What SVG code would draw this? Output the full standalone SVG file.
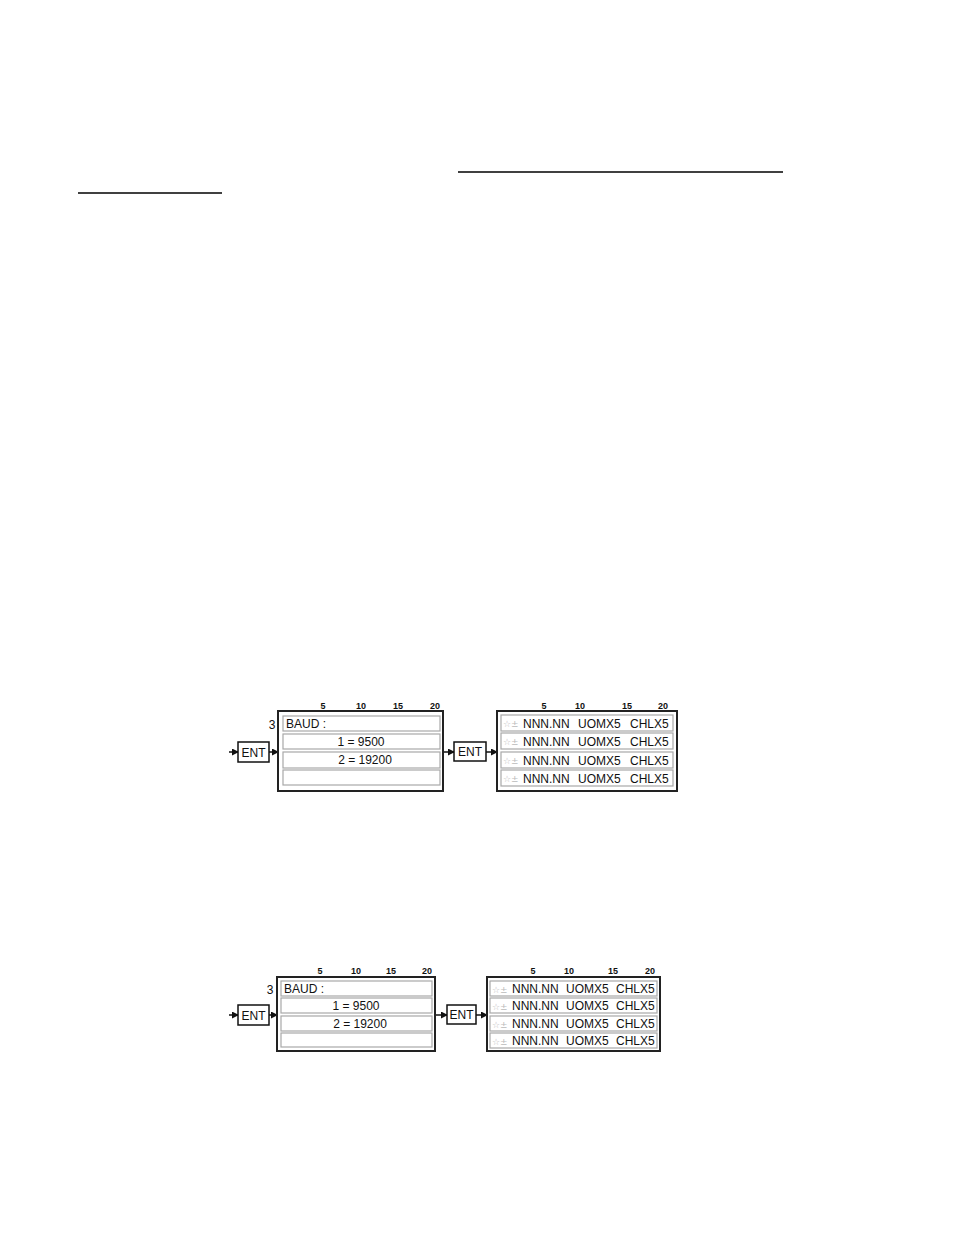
<svg xmlns="http://www.w3.org/2000/svg" width="954" height="1235" viewBox="0 0 954 1235">
<style>
.t{font-family:"Liberation Sans",Arial,sans-serif;font-size:12px;fill:#111}
.s{font-family:"Liberation Sans",Arial,sans-serif;font-size:9px;font-weight:bold;fill:#111}
.g{font-family:"DejaVu Sans",sans-serif;font-size:9px;fill:#bbb}
.box{fill:#fff;stroke:#222;stroke-width:2}
.row{fill:#fff;stroke:#a8a8a8;stroke-width:1.2}
.ent{fill:#fff;stroke:#111;stroke-width:1.5}
.c{stroke:#111;stroke-width:1.5;fill:none}
.rule{stroke:#000;stroke-width:1.5}
</style>
<defs>
<marker id="ah" markerWidth="7" markerHeight="7" refX="6" refY="3.5" orient="auto" markerUnits="userSpaceOnUse">
<path d="M0,0 L7,3.5 L0,7 Z" fill="#111"/>
</marker>
</defs>
<rect width="954" height="1235" fill="#fff"/>
<line class="rule" x1="458" y1="172" x2="783" y2="172"/>
<line class="rule" x1="78" y1="193" x2="222" y2="193"/>

<g id="connectors">
<line class="c" x1="229" y1="752" x2="238" y2="752" marker-end="url(#ah)"/>
<line class="c" x1="269" y1="752" x2="278" y2="752" marker-end="url(#ah)"/>
<line class="c" x1="443" y1="752" x2="454" y2="752" marker-end="url(#ah)"/>
<line class="c" x1="486" y1="752" x2="497" y2="752" marker-end="url(#ah)"/>
<line class="c" x1="229" y1="1015" x2="238" y2="1015" marker-end="url(#ah)"/>
<line class="c" x1="269" y1="1015" x2="277" y2="1015" marker-end="url(#ah)"/>
<line class="c" x1="435" y1="1015" x2="447" y2="1015" marker-end="url(#ah)"/>
<line class="c" x1="476" y1="1015" x2="487" y2="1015" marker-end="url(#ah)"/>
</g>

<g id="ent1a">
<rect class="ent" x="238" y="742" width="31" height="20"/>
<text class="t" x="253.5" y="756.5" text-anchor="middle">ENT</text>
</g>
<g id="baud1">
<text class="s" x="323" y="709" text-anchor="middle">5</text>
<text class="s" x="361" y="709" text-anchor="middle">10</text>
<text class="s" x="398" y="709" text-anchor="middle">15</text>
<text class="s" x="435" y="709" text-anchor="middle">20</text>
<text class="t" x="272" y="729" text-anchor="middle">3</text>
<rect class="box" x="278" y="711" width="165" height="80"/>
<rect class="row" x="283" y="716" width="157" height="15"/>
<rect class="row" x="283" y="734" width="157" height="15"/>
<rect class="row" x="283" y="752" width="157" height="16"/>
<rect class="row" x="283" y="770" width="157" height="15"/>
<text class="t" x="286" y="728">BAUD :</text>
<text class="t" x="361" y="746" text-anchor="middle">1 = 9500</text>
<text class="t" x="365" y="764" text-anchor="middle">2 = 19200</text>
</g>
<g id="ent1b">
<rect class="ent" x="454" y="742" width="32" height="19"/>
<text class="t" x="470" y="756" text-anchor="middle">ENT</text>
</g>
<g id="disp1">
<text class="s" x="544" y="709" text-anchor="middle">5</text>
<text class="s" x="580" y="709" text-anchor="middle">10</text>
<text class="s" x="627" y="709" text-anchor="middle">15</text>
<text class="s" x="663" y="709" text-anchor="middle">20</text>
<rect class="box" x="497" y="711" width="180" height="80"/>
<rect class="row" x="501" y="715" width="172" height="16"/>
<rect class="row" x="501" y="733" width="172" height="16"/>
<rect class="row" x="501" y="752" width="172" height="16"/>
<rect class="row" x="501" y="770" width="172" height="16"/>
<g class="g"><text x="503" y="727">☆±</text><text x="503" y="745">☆±</text><text x="503" y="764">☆±</text><text x="503" y="782">☆±</text></g>
<g class="t">
<text x="523" y="728">NNN.NN</text><text x="578" y="728">UOMX5</text><text x="630" y="728">CHLX5</text>
<text x="523" y="746">NNN.NN</text><text x="578" y="746">UOMX5</text><text x="630" y="746">CHLX5</text>
<text x="523" y="765">NNN.NN</text><text x="578" y="765">UOMX5</text><text x="630" y="765">CHLX5</text>
<text x="523" y="783">NNN.NN</text><text x="578" y="783">UOMX5</text><text x="630" y="783">CHLX5</text>
</g>
</g>

<g id="ent2a">
<rect class="ent" x="238" y="1005" width="31" height="20"/>
<text class="t" x="253.5" y="1019.5" text-anchor="middle">ENT</text>
</g>
<g id="baud2">
<text class="s" x="320" y="974" text-anchor="middle">5</text>
<text class="s" x="356" y="974" text-anchor="middle">10</text>
<text class="s" x="391" y="974" text-anchor="middle">15</text>
<text class="s" x="427" y="974" text-anchor="middle">20</text>
<text class="t" x="270" y="994" text-anchor="middle">3</text>
<rect class="box" x="277" y="977" width="158" height="74"/>
<rect class="row" x="281" y="981" width="151" height="15"/>
<rect class="row" x="281" y="998" width="151" height="15"/>
<rect class="row" x="281" y="1016" width="151" height="15"/>
<rect class="row" x="281" y="1033" width="151" height="14"/>
<text class="t" x="284" y="993">BAUD :</text>
<text class="t" x="356" y="1010" text-anchor="middle">1 = 9500</text>
<text class="t" x="360" y="1028" text-anchor="middle">2 = 19200</text>
</g>
<g id="ent2b">
<rect class="ent" x="447" y="1005" width="29" height="19"/>
<text class="t" x="461.5" y="1019" text-anchor="middle">ENT</text>
</g>
<g id="disp2">
<text class="s" x="533" y="974" text-anchor="middle">5</text>
<text class="s" x="569" y="974" text-anchor="middle">10</text>
<text class="s" x="613" y="974" text-anchor="middle">15</text>
<text class="s" x="650" y="974" text-anchor="middle">20</text>
<rect class="box" x="487" y="977" width="173" height="74"/>
<rect class="row" x="490" y="981" width="167" height="15"/>
<rect class="row" x="490" y="998" width="167" height="15"/>
<rect class="row" x="490" y="1016" width="167" height="15"/>
<rect class="row" x="490" y="1033" width="167" height="15"/>
<g class="g"><text x="492" y="993">☆±</text><text x="492" y="1010">☆±</text><text x="492" y="1028">☆±</text><text x="492" y="1045">☆±</text></g>
<g class="t">
<text x="512" y="993">NNN.NN</text><text x="566" y="993">UOMX5</text><text x="616" y="993">CHLX5</text>
<text x="512" y="1010">NNN.NN</text><text x="566" y="1010">UOMX5</text><text x="616" y="1010">CHLX5</text>
<text x="512" y="1028">NNN.NN</text><text x="566" y="1028">UOMX5</text><text x="616" y="1028">CHLX5</text>
<text x="512" y="1045">NNN.NN</text><text x="566" y="1045">UOMX5</text><text x="616" y="1045">CHLX5</text>
</g>
</g>
</svg>
